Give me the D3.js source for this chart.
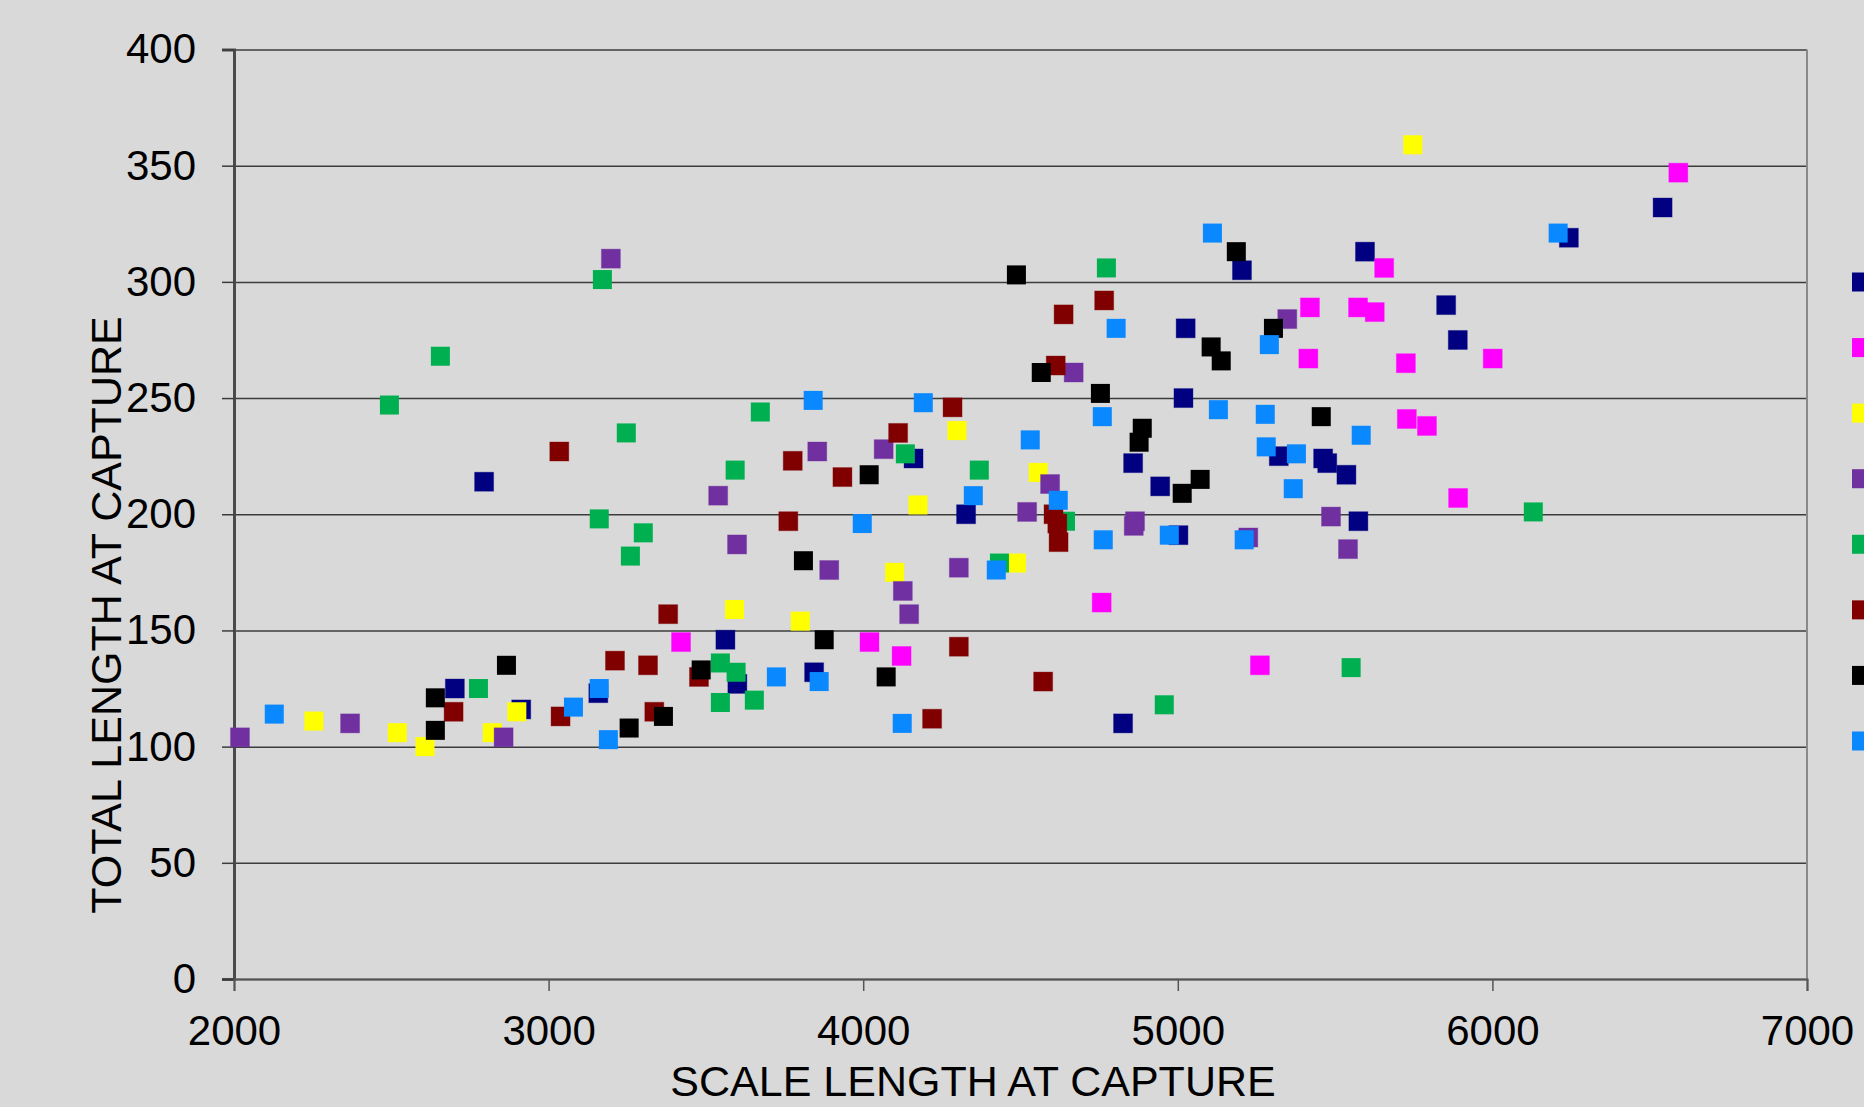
<!DOCTYPE html>
<html>
<head>
<meta charset="utf-8">
<script src="https://cdn.jsdelivr.net/npm/d3@7"></script>
<style>
  html, body { margin: 0; padding: 0; background: #d9d9d9; overflow: hidden; }
  svg { display: block; }
  text { font-family: "Liberation Sans", Arial, sans-serif; fill: #000; }
</style>
</head>
<body>
<svg id="chart" width="1864" height="1107"></svg>
<script>
// ---- data ----
const seriesNames = ["Group 1", "Group 2", "Group 3", "Group 4", "Group 5", "Group 6", "Group 7", "Group 8"];
const seriesColors = ["#000080", "#ff00ff", "#ffff00", "#7030a0", "#00b050", "#800000", "#000000", "#0a88ff"];

const navyPts = [[2795,214],[2702,125],[2913,116],[3562,146],[3600,127],[3844,132],[3158,123],[4160,224],[4327,200],[4858,222],[4826,110],[4944,212],[5002,191],[5574,197],[5025,280],[5018,250],[5204,305],[5595,313],[5321,225],[5462,224],[5475,222],[5536,217],[5853,290],[5890,275],[6243,319],[6541,332]];
const magentaPts = [[3421,145],[4020,145],[4122,139],[4758,162],[5261,135],[5420,289],[5573,289],[5626,287],[5656,306],[5415,267],[5725,265],[5728,241],[5792,238],[5891,207],[6001,267],[6591,347]];
const yellowPts = [[2254,111],[2519,106],[2607,100],[2821,106],[2899,115],[3591,159],[3800,154],[4100,175],[4174,204],[4298,236],[4487,179],[4556,218],[5747,359]];
const purplePts = [[2019,104],[2369,110],[2857,104],[3198,310],[3539,208],[3599,187],[3854,227],[3892,176],[4065,228],[4126,167],[4146,157],[4304,177],[4521,201],[4594,213],[4669,261],[4864,197],[4860,195],[5224,190],[5348,284],[5487,199],[5541,185]];
const greenPts = [[2494,247],[2656,268],[2777,125],[3171,301],[3161,198],[3247,235],[3260,182],[3301,192],[3546,136],[3596,132],[3546,119],[3654,120],[3593,219],[3673,244],[4134,226],[4369,219],[4433,179],[4643,197],[4773,306],[4957,118],[5551,134],[6130,201]];
const darkRedPts = [[2698,115],[3034,227],[3038,113],[3211,137],[3316,135],[3336,115],[3380,157],[3478,130],[3762,197],[3776,223],[3934,216],[4111,235],[4219,112],[4284,246],[4304,143],[4572,128],[4605,200],[4617,196],[4621,188],[4612,264],[4637,286],[4766,292]];
const blackPts = [[2640,121],[2640,107],[2866,135],[3256,108],[3365,113],[3485,133],[3810,180],[3876,146],[4019,217],[4073,130],[4487,303],[4566,261],[4754,252],[4877,231],[4887,237],[5014,209],[5071,215],[5106,272],[5138,266],[5186,313],[5304,280],[5456,242]];
const bluePts = [[2128,114],[3079,117],[3161,125],[3190,103],[3724,130],[3860,128],[3841,249],[3997,196],[4124,110],[4191,248],[4350,208],[4423,176],[4531,232],[4620,206],[4760,242],[4763,189],[4804,280],[4973,191],[5110,321],[5129,245],[5211,189],[5278,243],[5281,229],[5291,273],[5367,211],[5377,226],[5583,234],[6209,321]];

const xTicks = [2000, 3000, 4000, 5000, 6000, 7000];
const yTicks = [0, 50, 100, 150, 200, 250, 300, 350, 400];
const xTitle = "SCALE LENGTH AT CAPTURE";
const yTitle = "TOTAL LENGTH AT CAPTURE";

const seriesData = [navyPts, magentaPts, yellowPts, purplePts, greenPts, darkRedPts, blackPts, bluePts];
const series = seriesNames.map((name, i) => ({ name, color: seriesColors[i], pts: seriesData[i] }));

// ---- layout ----
const plot = { left: 234, right: 1807, top: 49.5, bottom: 979 };
const TICK_FONT = 42;
const TITLE_FONT = 43;
const MS = 19; // marker size

const svg = d3.select("#chart");
svg.append("rect").attr("width", 1864).attr("height", 1107).attr("fill", "#d9d9d9");

const x = d3.scaleLinear().domain([2000, 7000]).range([plot.left, plot.right]);
const y = d3.scaleLinear().domain([0, 400]).range([plot.bottom, plot.top]);

// gridlines
svg.append("g")
  .attr("transform", `translate(${plot.left},0)`)
  .call(d3.axisLeft(y).tickValues(yTicks).tickSize(-(plot.right - plot.left)).tickFormat(""))
  .call(g => g.select(".domain").remove())
  .call(g => g.selectAll("line").attr("stroke", "#3c3c3c").attr("stroke-width", 1.5));

// right border of plot
svg.append("line")
  .attr("x1", plot.right).attr("x2", plot.right)
  .attr("y1", plot.top).attr("y2", plot.bottom)
  .attr("stroke", "#8a8a8a").attr("stroke-width", 2);

// y axis
svg.append("g")
  .attr("transform", `translate(${plot.left},0)`)
  .call(d3.axisLeft(y).tickValues(yTicks).tickSize(12).tickPadding(26).tickFormat(d3.format("d")))
  .call(g => g.select(".domain").attr("stroke", "#4a4a4a").attr("stroke-width", 3))
  .call(g => g.selectAll(".tick line").attr("stroke", "#3c3c3c").attr("stroke-width", 1.5))
  .call(g => g.selectAll("text").attr("font-size", TICK_FONT).attr("font-family", "Liberation Sans, Arial, sans-serif").attr("fill", "#000"));

// x axis
svg.append("g")
  .attr("transform", `translate(0,${plot.bottom})`)
  .call(d3.axisBottom(x).tickValues(xTicks).tickSize(12).tickPadding(24).tickFormat(d3.format("d")))
  .call(g => g.select(".domain").attr("stroke", "#555").attr("stroke-width", 2))
  .call(g => g.selectAll(".tick line").attr("stroke", "#555").attr("stroke-width", 1.5))
  .call(g => g.selectAll("text").attr("font-size", TICK_FONT).attr("font-family", "Liberation Sans, Arial, sans-serif").attr("fill", "#000"));

// markers
const borderColors = { "#000080": true, "#ff00ff": true, "#7030a0": true, "#800000": true };
series.forEach(s => {
  svg.append("g").selectAll("rect")
    .data(s.pts)
    .join("rect")
    .attr("x", d => x(d[0]) - MS / 2)
    .attr("y", d => y(d[1]) - MS / 2)
    .attr("width", MS).attr("height", MS)
    .attr("fill", s.color)
    .attr("stroke", borderColors[s.color] ? s.color : "none")
    .attr("stroke-opacity", 0.35)
    .attr("stroke-width", 1);
});

// legend (only markers visible; cut by page edge)
const legendY = d3.scaleLinear().domain([0, 7]).range([282, 741]);
svg.append("g").selectAll("rect")
  .data(series)
  .join("rect")
  .attr("x", 1852)
  .attr("y", (d, i) => legendY(i) - MS / 2)
  .attr("width", MS).attr("height", MS)
  .attr("fill", d => d.color);

// axis titles
svg.append("text")
  .attr("x", 973).attr("y", 1096)
  .attr("text-anchor", "middle")
  .attr("font-size", TITLE_FONT)
  .text(xTitle);

svg.append("text")
  .attr("transform", "translate(121,615) rotate(-90)")
  .attr("text-anchor", "middle")
  .attr("font-size", TITLE_FONT)
  .text(yTitle);
</script>
</body>
</html>
